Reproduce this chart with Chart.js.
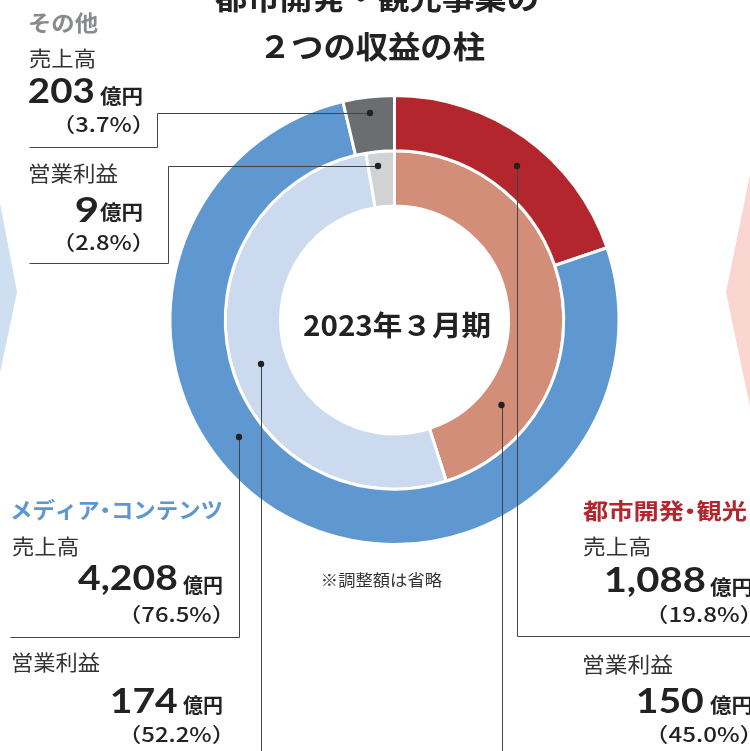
<!DOCTYPE html>
<html><head><meta charset="utf-8">
<script src="https://cdn.jsdelivr.net/npm/chart.js@4.4.0/dist/chart.umd.min.js"></script>
<style>html,body{margin:0;padding:0;background:#fff;overflow:hidden}canvas{display:block}</style>
</head><body>
<canvas id="c" width="750" height="751"></canvas>
<script>
// ---- data ----
const segments = ['都市開発・観光', 'メディア・コンテンツ', 'その他'];
const salesValues = [1088, 4208, 203];
const profitValues = [150, 174, 9];
const salesShare = ['19.8%', '76.5%', '3.7%'];
const profitShare = ['45.0%', '52.2%', '2.8%'];
const titleLines = ['都市開発・観光事業の', '２つの収益の柱'];
const centerLabel = '2023年３月期';
const noteText = '※調整額は省略';
const salesLabel = '売上高', profitLabel = '営業利益', unitLabel = '億円';

// ---- styles ----
const salesColors = ['#B4262E', '#5F98D0', '#6C6D71'];
const profitColors = ['#D38E79', '#CBDAEF', '#D1D2D4'];
const nameColors = ['#B4262E', '#5B97D2', '#898A8C'];
const JP = "'Noto Sans CJK JP'";
const NUM = "Lato, 'Noto Sans CJK JP'";
const INK = '#222';
const LABEL = '#333';

// text boxes: [x0, x1, yCenter] of the ink
const blocks = [
  { name:[583,747,511], sL:[583,650,546], sN:[606,705,582], sU:[710,752,587], sP:[660,748,614],
    pL:[583,673,664], pN:[638,703,700], pU:[710,752,705], pP:[660,748,733.5] },
  { name:[12,222,509], sL:[12,78,546], sN:[78,177,580], sU:[183,222,585], sP:[133,220,614],
    pL:[12,100,662], pN:[112,177,700], pU:[183,222,705], pP:[133,220,733.5] },
  { name:[29,98,23], sL:[29,95,58], sN:[29,94,90.5], sU:[100,142,95.5], sP:[67,140,124],
    pL:[29,118,173], pN:[76,97,209.5], pU:[100,142,212], pP:[67,140,241.5] }
];
// leader lines (dot first)
const leaders = [
  [[517,166],[517,636],[750,636]],
  [[501.5,405],[501.5,752]],
  [[239,437],[239,637],[10,637]],
  [[261,364],[261,752]],
  [[370,113],[157,113],[157,147],[29,147]],
  [[378,166],[168,166],[168,263],[29,263]]
];

// draws text so its ink spans box[0]..box[1] horizontally, centred on box[2];
// a middle dot gets a narrow (proportional) advance when palt is true
function fitText(ctx, text, box, font, color, palt) {
  const [x0, x1, yc] = box;
  ctx.save();
  ctx.font = font;
  ctx.textAlign = 'left';
  ctx.textBaseline = 'alphabetic';
  const size = parseFloat(font.match(/(\d+(\.\d+)?)px/)[1]);
  const pieces = palt ? [...text] : [text];
  let x = 0, inkL = Infinity, inkR = -Infinity, asc = 0, desc = 0;
  const items = [];
  pieces.forEach(c => {
    const m = ctx.measureText(c);
    let adv = m.width, off = 0;
    if (palt && c === '・') { adv = size * 0.5; off = (adv - m.width) / 2; }
    items.push([c, x + off]);
    inkL = Math.min(inkL, x + off - m.actualBoundingBoxLeft);
    inkR = Math.max(inkR, x + off + m.actualBoundingBoxRight);
    asc = Math.max(asc, m.actualBoundingBoxAscent);
    desc = Math.max(desc, m.actualBoundingBoxDescent);
    x += adv;
  });
  const sx = (x1 - x0) / (inkR - inkL);
  ctx.translate(x0, yc + (asc - desc) / 2);
  ctx.scale(sx, 1);
  ctx.fillStyle = color;
  items.forEach(([c, px]) => ctx.fillText(c, px - inkL, 0));
  ctx.restore();
}

const decor = {
  id: 'decor',
  beforeDatasetsDraw(chart) {
    const ctx = chart.ctx;
    ctx.save();
    ctx.fillStyle = '#CFDFF2';
    ctx.beginPath(); ctx.moveTo(-40, 203); ctx.lineTo(0, 203); ctx.lineTo(17, 292); ctx.lineTo(0, 373); ctx.lineTo(-40, 373); ctx.closePath(); ctx.fill();
    ctx.fillStyle = '#F9D6CF';
    ctx.beginPath(); ctx.moveTo(790, 175); ctx.lineTo(750, 175); ctx.lineTo(726, 292); ctx.lineTo(750, 407); ctx.lineTo(790, 407); ctx.closePath(); ctx.fill();
    ctx.restore();
  },
  afterDatasetsDraw(chart) {
    const ctx = chart.ctx;
    // leaders
    ctx.save();
    ctx.strokeStyle = '#444'; ctx.lineWidth = 1;
    leaders.forEach(path => {
      ctx.beginPath();
      path.forEach((p, i) => {
        const x = Math.round(p[0]) + 0.5, y = Math.round(p[1]) + 0.5;
        if (i === 0) ctx.moveTo(x, y); else ctx.lineTo(x, y);
      });
      ctx.stroke();
      ctx.fillStyle = '#222';
      ctx.beginPath(); ctx.arc(path[0][0], path[0][1], 3.2, 0, Math.PI * 2); ctx.fill();
    });
    ctx.restore();

    // title & center
    fitText(ctx, titleLines[0], [215,537,-2], `bold 30px ${JP}`, INK);
    fitText(ctx, titleLines[1], [265,485,46], `bold 31px ${JP}`, INK);
    fitText(ctx, centerLabel, [303,490,324.5], `bold 28px ${JP}`, INK);
    fitText(ctx, noteText, [323,442,580], `16px ${JP}`, LABEL);

    // blocks
    segments.forEach((name, i) => {
      const b = blocks[i];
      fitText(ctx, name, b.name, `bold 22px ${JP}`, nameColors[i], true);
      fitText(ctx, salesLabel, b.sL, `21px ${JP}`, LABEL);
      fitText(ctx, salesValues[i].toLocaleString('en-US'), b.sN, `bold 34px ${NUM}`, INK);
      fitText(ctx, unitLabel, b.sU, `bold 20px ${JP}`, INK);
      fitText(ctx, '（' + salesShare[i] + '）', b.sP, `500 20px ${JP}`, INK);
      fitText(ctx, profitLabel, b.pL, `21px ${JP}`, LABEL);
      fitText(ctx, profitValues[i].toLocaleString('en-US'), b.pN, `bold 34px ${NUM}`, INK);
      fitText(ctx, unitLabel, b.pU, `bold 20px ${JP}`, INK);
      fitText(ctx, '（' + profitShare[i] + '）', b.pP, `500 20px ${JP}`, INK);
    });
  }
};

new Chart(document.getElementById('c'), {
  type: 'doughnut',
  data: {
    labels: segments,
    datasets: [
      { label: salesLabel, data: salesValues, backgroundColor: salesColors, borderColor: '#fff', borderWidth: 3 },
      { label: profitLabel, data: profitValues, backgroundColor: profitColors, borderColor: '#fff', borderWidth: 3 }
    ]
  },
  options: {
    responsive: false,
    animation: false,
    events: [],
    cutout: '50.78%',
    layout: { padding: { left: 168.5, right: 129.5, top: 94, bottom: 205 } },
    plugins: { legend: { display: false }, tooltip: { enabled: false } }
  },
  plugins: [decor]
});
</script>
</body></html>
